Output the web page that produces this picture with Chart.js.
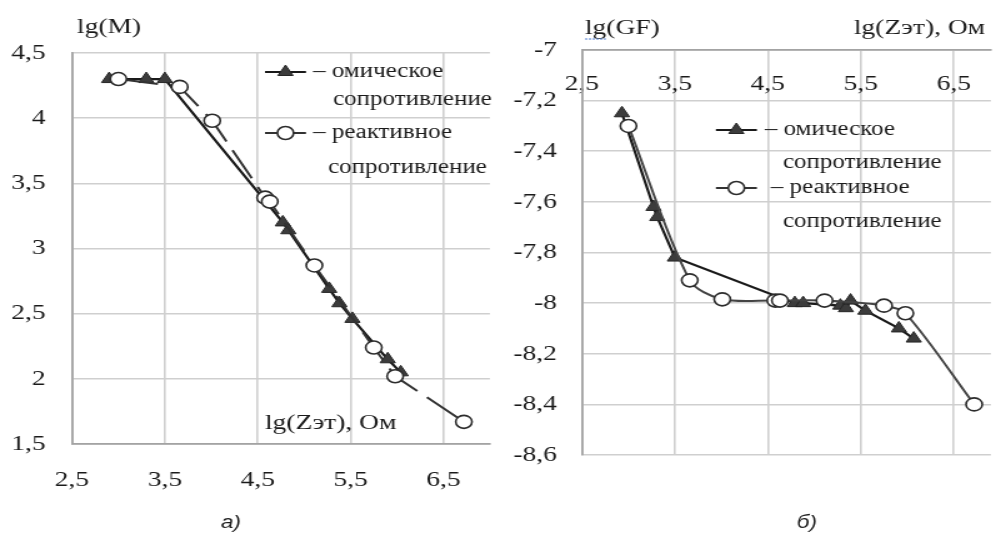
<!DOCTYPE html>
<html>
<head>
<meta charset="utf-8">
<script src="https://cdn.jsdelivr.net/npm/chart.js@4.4.1/dist/chart.umd.min.js"></script>
<style>
  html, body { margin: 0; padding: 0; background: #fff; overflow: hidden; }
  #wrap { position: relative; width: 1001px; height: 536px; }
  canvas { position: absolute; top: 0; }
</style>
</head>
<body>
<div id="wrap">
  <canvas id="chartA" width="400" height="536" style="left:0;width:500px;height:536px"></canvas>
  <canvas id="chartB" width="401" height="536" style="left:500px;width:501px;height:536px"></canvas>
</div>
<script>
// the reference picture is stretched sideways, so the canvases are drawn narrow and widened by css
const S = 1.25;

// а) lg(M) vs lg(Zэт)
const omicZa = [2.9, 3.3, 3.5, 4.77, 4.83, 5.27, 5.38, 5.52, 5.9, 6.04];
const omicM = [4.3, 4.3, 4.3, 3.2, 3.14, 2.69, 2.58, 2.46, 2.15, 2.05];
const reactZ = [3.0, 3.66, 4.01, 4.58, 4.63, 5.11, 5.75, 5.98, 6.72];
const reactM = [4.3, 4.24, 3.98, 3.39, 3.36, 2.87, 2.24, 2.02, 1.67];

// б) lg(GF) vs lg(Zэт)
const omicZb = [2.93, 3.27, 3.31, 3.5, 4.79, 4.88, 5.28, 5.34, 5.39, 5.55, 5.91, 6.07];
const omicGF = [-7.25, -7.62, -7.66, -7.82, -8.0, -8.0, -8.01, -8.02, -7.99, -8.03, -8.1, -8.14];
const reactGF = [-7.3, -7.91, -7.985, -7.99, -7.99, -7.99, -8.01, -8.04, -8.4];

const xTicks = [2.5, 3.5, 4.5, 5.5, 6.5];
const legendOmic = ["– омическое", "сопротивление"];
const legendReact = ["– реактивное", "сопротивление"];

const serif = "'Liberation Serif', 'Times New Roman', serif";
const ink = "#1a1a1a";

function pts(xs, ys) {
  return xs.map(function (x, i) { return { x: x, y: ys[i] }; });
}

function fmt(v) {
  return String(Math.round(v * 10) / 10).replace(".", ",");
}

const omicStyle = {
  borderColor: "#1a1a1a", borderWidth: 2.2,
  pointStyle: "triangle", pointRadius: 7,
  pointBackgroundColor: "#3c3c3c", pointBorderColor: "#262626", pointBorderWidth: 1
};
const reactStyle = {
  borderColor: "#333333", borderWidth: 2,
  pointStyle: "circle", pointRadius: 6.5,
  pointBackgroundColor: "#ffffff", pointBorderColor: "#2c2c2c", pointBorderWidth: 1.6
};

// texts and the legend, positions given in picture pixels
function overlay(spec) {
  return {
    id: "overlay",
    afterDraw: function (chart) {
      const ctx = chart.ctx;
      ctx.save();
      ctx.fillStyle = ink;
      ctx.textBaseline = "middle";
      spec.texts.forEach(function (t) {
        ctx.font = t.font;
        ctx.textAlign = t.align || "left";
        ctx.fillText(t.text, t.x / S, t.y);
      });
      spec.legend.forEach(function (l) {
        const st = l.style;
        ctx.strokeStyle = st.borderColor;
        ctx.lineWidth = st.borderWidth;
        ctx.beginPath();
        ctx.moveTo(l.x1 / S, l.y);
        ctx.lineTo(l.x2 / S, l.y);
        ctx.stroke();
        ctx.fillStyle = st.pointBackgroundColor;
        ctx.strokeStyle = st.pointBorderColor;
        ctx.lineWidth = st.pointBorderWidth;
        Chart.helpers.drawPoint(ctx, {
          pointStyle: st.pointStyle, radius: st.pointRadius, rotation: 0, borderWidth: st.pointBorderWidth
        }, (l.x1 + l.x2) / 2 / S, l.y);
        ctx.fillStyle = ink;
        ctx.font = "20px " + serif;
        ctx.textAlign = "left";
        ctx.fillText(l.lines[0], l.tx1 / S, l.y);
        ctx.fillText(l.lines[1], l.tx2 / S, l.y2);
      });
      if (spec.underline) {
        const u = spec.underline;
        ctx.strokeStyle = "#4a7bd0";
        ctx.lineWidth = 1;
        ctx.setLineDash([2, 1]);
        ctx.beginPath();
        ctx.moveTo(u.x1 / S, u.y);
        ctx.lineTo(u.x2 / S, u.y);
        ctx.stroke();
      }
      ctx.restore();
    }
  };
}

function xScale(extra, tickExtra) {
  return Object.assign({
    type: "linear", min: 2.5,
    afterBuildTicks: function (s) { s.ticks = xTicks.map(function (v) { return { value: v }; }); },
    grid: { color: "#cfcfcf", lineWidth: 1.6, drawTicks: false },
    border: { color: "#a3a3a3", width: 1.8 },
    ticks: Object.assign({ color: ink, font: { family: serif, size: 22 }, maxRotation: 0, autoSkip: false, callback: fmt }, tickExtra)
  }, extra);
}

function yScale(extra, pad, step) {
  return Object.assign({
    type: "linear",
    grid: { color: "#cfcfcf", lineWidth: 1.6, drawTicks: false },
    border: { color: "#a3a3a3", width: 1.8 },
    ticks: { color: ink, font: { family: serif, size: 22 }, padding: pad, stepSize: step, callback: fmt }
  }, extra);
}

const common = {
  responsive: false,
  animation: false,
  plugins: { legend: { display: false }, tooltip: { enabled: false } }
};

new Chart(document.getElementById("chartA"), {
  type: "line",
  data: {
    datasets: [
      Object.assign({ label: "реактивное", data: pts(reactZ, reactM), borderDash: [32, 10], order: 0 }, reactStyle),
      Object.assign({ label: "омическое", data: pts(omicZa, omicM), order: 1 }, omicStyle)
    ]
  },
  options: Object.assign({}, common, {
    layout: { padding: { top: 53, right: 8, left: 0, bottom: 0 } },
    scales: {
      x: xScale({ max: 7, position: "bottom", afterFit: function (s) { s.height = 92; } }, { padding: 23 }),
      y: yScale({ min: 1.5, max: 4.5, afterFit: function (s) { s.width = 72 / S; } }, 21, 0.5)
    }
  }),
  plugins: [overlay({
    texts: [
      { text: "lg(M)", x: 77, y: 27, font: "22px " + serif },
      { text: "lg(Zэт), Ом", x: 265, y: 423, font: "22px " + serif },
      { text: "а)", x: 231, y: 523, align: "center", font: "italic 18px 'Liberation Sans', Arial, sans-serif" }
    ],
    legend: [
      { style: omicStyle, x1: 265, x2: 306, y: 72, lines: legendOmic, tx1: 313, tx2: 333, y2: 100 },
      { style: reactStyle, x1: 265, x2: 306, y: 133, lines: legendReact, tx1: 313, tx2: 328, y2: 168 }
    ]
  })]
});

new Chart(document.getElementById("chartB"), {
  type: "line",
  data: {
    datasets: [
      Object.assign({ label: "реактивное", data: pts(reactZ, reactGF), tension: 0.3, order: 0 }, reactStyle, { borderColor: "#444444" }),
      Object.assign({ label: "омическое", data: pts(omicZb, omicGF), order: 1 }, omicStyle)
    ]
  },
  options: Object.assign({}, common, {
    layout: { padding: { top: 50, right: 0, left: 0, bottom: 81 } },
    scales: {
      x: xScale({ max: 6.9, position: "top", afterFit: function (s) { s.height = 0; } }, { mirror: true, padding: 21 }),
      y: yScale({ min: -8.6, max: -7, afterFit: function (s) { s.width = 82 / S; } }, 20, 0.2)
    }
  }),
  plugins: [overlay({
    texts: [
      { text: "lg(GF)", x: 85, y: 28, font: "22px " + serif },
      { text: "lg(Zэт), Ом", x: 354, y: 28, font: "22px " + serif },
      { text: "б)", x: 307, y: 523, align: "center", font: "italic 18px 'Liberation Sans', Arial, sans-serif" }
    ],
    legend: [
      { style: omicStyle, x1: 216, x2: 257, y: 130, lines: legendOmic, tx1: 265, tx2: 283, y2: 163 },
      { style: reactStyle, x1: 216, x2: 257, y: 188, lines: legendReact, tx1: 271, tx2: 283, y2: 222 }
    ],
    underline: { x1: 85, x2: 106, y: 39 }
  })]
});
</script>
</body>
</html>
